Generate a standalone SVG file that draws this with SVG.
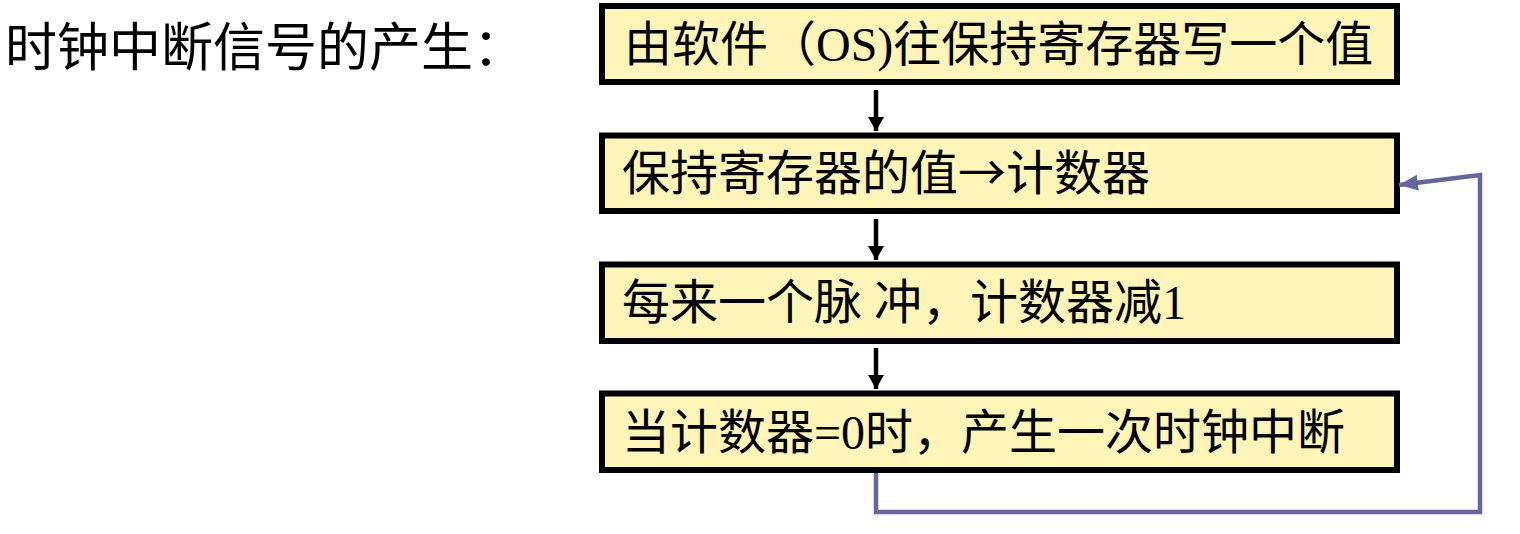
<svg xmlns="http://www.w3.org/2000/svg" width="1520" height="534" viewBox="0 0 1520 534">
<style>
.box{fill:#FFF5B9;stroke:#000;stroke-width:6}
.t{font-family:"Liberation Serif","Noto Sans CJK SC",serif;font-size:48px;fill:#000}
.cjk{font-family:"Noto Sans CJK SC",sans-serif}
.title{font-family:"Liberation Serif","Noto Sans CJK SC",serif;font-size:52px;fill:#000}
.arr{stroke:#000;stroke-width:4.5;fill:none}
.loop{stroke:#66669C;stroke-width:4.5;fill:none}
</style>
<defs>
<marker id="ah" markerUnits="userSpaceOnUse" markerWidth="18" markerHeight="18" refX="14" refY="9" orient="auto">
<path d="M0,1 L14,9 L0,17 Z" fill="#000"/>
</marker>
<marker id="bh" markerUnits="userSpaceOnUse" markerWidth="22" markerHeight="18" refX="19" refY="9" orient="auto">
<path d="M0,1 L19,9 L0,17 Z" fill="#66669C"/>
</marker>
</defs>
<text class="title" x="5" y="66">时钟中断信号的产生：</text>
<g id="n1"><rect class="box" x="602" y="6" width="795" height="76"/><text class="t" x="624" y="61">由软件（OS)往保持寄存器写一个值</text></g>
<g id="n2"><rect class="box" x="602" y="135.5" width="795" height="75.5"/><text class="t" x="622" y="190">保持寄存器的值<tspan class="cjk">→</tspan>计数器</text></g>
<g id="n3"><rect class="box" x="602" y="264.5" width="795" height="76.5"/><text class="t" x="622" y="319">每来一个脉 冲，计数器减1</text></g>
<g id="n4"><rect class="box" x="602" y="393.5" width="795" height="76.5"/><text class="t" x="622" y="449">当计数器=0时，产生一次时钟中断</text></g>
<g id="connectors">
<line class="arr" x1="876" y1="90" x2="876" y2="131" marker-end="url(#ah)"/>
<line class="arr" x1="876" y1="219" x2="876" y2="260" marker-end="url(#ah)"/>
<line class="arr" x1="876" y1="348" x2="876" y2="389" marker-end="url(#ah)"/>
<polyline class="loop" points="876,473 876,512 1480,512 1480,175 1399,185" marker-end="url(#bh)"/>
</g>
</svg>
